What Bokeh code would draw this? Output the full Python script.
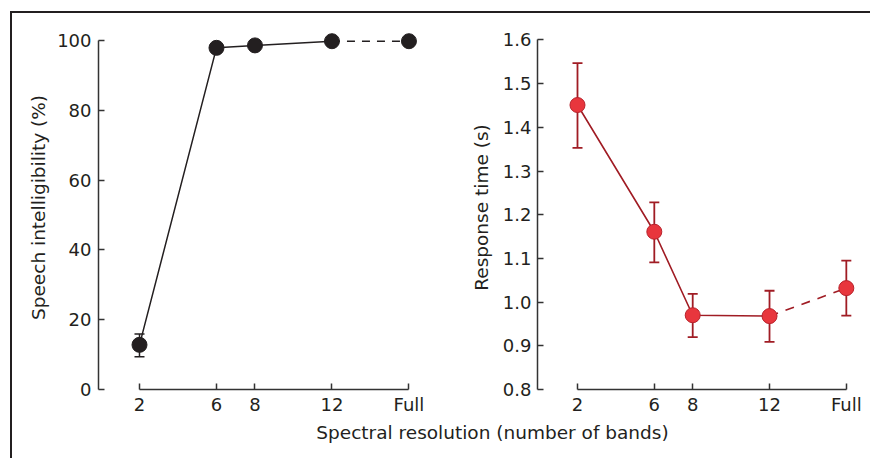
from bokeh.plotting import figure
from bokeh.models import Range1d, FixedTicker, Whisker, TeeHead, ColumnDataSource, Label, PrintfTickFormatter
from bokeh.layouts import row, column
from bokeh.embed import file_html
from bokeh.resources import INLINE

FONT = "DejaVu Sans"
TXT = "#231f20"
AX = "#333333"

# ---- data ----
bands = ["2", "6", "8", "12", "Full"]
band_pos = [2, 6, 8, 12, 16]

intel = [12.8, 97.9, 98.6, 99.8, 99.8]
intel_lo = [9.4, 97.4, 98.1, 99.3, 99.3]
intel_hi = [15.9, 98.4, 99.1, 100.3, 100.3]

rt = [1.451, 1.161, 0.970, 0.968, 1.032]
rt_lo = [1.353, 1.091, 0.920, 0.909, 0.969]
rt_hi = [1.547, 1.228, 1.019, 1.026, 1.095]

intel_ticks = [0, 20, 40, 60, 80, 100]
rt_ticks = [0.8, 0.9, 1.0, 1.1, 1.2, 1.3, 1.4, 1.5, 1.6]


def style(p, yticks, ybounds, ylabel):
    p.xgrid.visible = False
    p.ygrid.visible = False
    p.outline_line_color = None
    for ax in (p.xaxis[0], p.yaxis[0]):
        ax.axis_line_color = AX
        ax.axis_line_width = 1.5
        ax.major_tick_line_color = AX
        ax.major_tick_line_width = 1.5
        ax.major_tick_in = 6
        ax.major_tick_out = 0
        ax.minor_tick_line_color = None
        ax.major_label_text_font = FONT
        ax.major_label_text_font_size = "18px"
        ax.major_label_text_color = TXT
        ax.axis_label_text_font = FONT
        ax.axis_label_text_font_size = "18.5px"
        ax.axis_label_text_font_style = "normal"
        ax.axis_label_text_color = TXT
    xa = p.xaxis[0]
    xa.ticker = FixedTicker(ticks=band_pos)
    xa.major_label_overrides = {b: l for b, l in zip(band_pos, bands)}
    xa.bounds = (band_pos[0], band_pos[-1])
    xa.major_label_standoff = 4
    ya = p.yaxis[0]
    ya.ticker = FixedTicker(ticks=yticks)
    ya.bounds = ybounds
    ya.axis_label = ylabel
    ya.major_label_standoff = 7
    ya.axis_label_standoff = 5


# ---- left panel ----
p1 = figure(width=428, height=406, x_range=Range1d(-0.13, 16.6), y_range=Range1d(0, 104.3),
            min_border_left=86, min_border_right=20, min_border_top=12, min_border_bottom=30,
            output_backend="svg", toolbar_location=None)
style(p1, intel_ticks, (intel_ticks[0], intel_ticks[-1]), "Speech intelligibility (%)")

s1 = ColumnDataSource(dict(x=band_pos, y=intel, lo=intel_lo, hi=intel_hi))
p1.add_layout(Whisker(source=s1, base="x", lower="lo", upper="hi", line_color=TXT, line_width=1.5,
                      upper_head=TeeHead(size=10, line_color=TXT, line_width=1.5),
                      lower_head=TeeHead(size=10, line_color=TXT, line_width=1.5)))
p1.line(band_pos[:4], intel[:4], line_color=TXT, line_width=1.5)
p1.line(band_pos[3:], intel[3:], line_color=TXT, line_width=1.5, line_dash="8 7")
p1.scatter("x", "y", source=s1, size=15, fill_color=TXT, line_color=TXT)

# ---- right panel ----
RED_L = "#a01c24"
RED_F = "#e8363d"
p2 = figure(width=430, height=406, x_range=Range1d(-0.083, 16.53), y_range=Range1d(0.8, 1.633),
            min_border_left=97, min_border_right=14, min_border_top=12, min_border_bottom=30,
            output_backend="svg", toolbar_location=None)
style(p2, rt_ticks, (rt_ticks[0], rt_ticks[-1]), "Response time (s)")
p2.yaxis[0].formatter = PrintfTickFormatter(format="%.1f")
p2.yaxis[0].major_label_standoff = 6
p2.yaxis[0].axis_label_standoff = 8

s2 = ColumnDataSource(dict(x=band_pos, y=rt, lo=rt_lo, hi=rt_hi))
p2.add_layout(Whisker(source=s2, base="x", lower="lo", upper="hi", line_color=RED_L, line_width=1.8,
                      upper_head=TeeHead(size=10, line_color=RED_L, line_width=1.8),
                      lower_head=TeeHead(size=10, line_color=RED_L, line_width=1.8)))
p2.line(band_pos[:4], rt[:4], line_color=RED_L, line_width=1.6)
p2.line(band_pos[3:], rt[3:], line_color=RED_L, line_width=1.6, line_dash="9 8")
p2.scatter("x", "y", source=s2, size=15, fill_color=RED_F, line_color="#b8222b", line_width=1)

# ---- shared x label ----
p3 = figure(width=858, height=39, x_range=Range1d(0, 858), y_range=Range1d(0, 39),
            min_border=0, x_axis_location=None, y_axis_location=None,
            output_backend="svg", toolbar_location=None)
p3.outline_line_color = None
p3.xgrid.visible = False
p3.ygrid.visible = False
p3.add_layout(Label(x=480, y=26, text="Spectral resolution (number of bands)", text_font=FONT,
                    text_font_size="18.5px", text_color=TXT, text_align="center", text_baseline="middle"))

layout = column(row(p1, p2), p3,
                styles={"border-top": "2px solid #231f20", "border-left": "2px solid #231f20",
                        "margin-top": "11px", "margin-left": "10px"})

open("out.html", "w").write(file_html(layout, INLINE))
